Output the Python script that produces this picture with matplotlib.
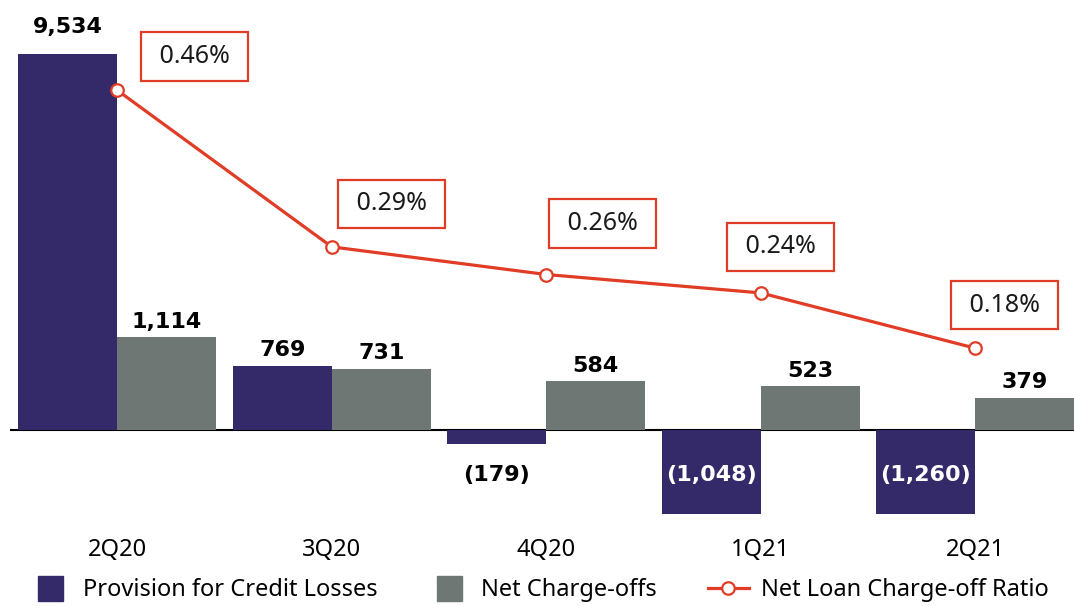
import matplotlib
matplotlib.use("Agg")
import matplotlib.pyplot as plt
from matplotlib.lines import Line2D

plt.rcParams['font.family'] = ['Noto Sans', 'DejaVu Sans']
bold_font = ['DejaVu Sans']

# data
quarters = ['2Q20', '3Q20', '4Q20', '1Q21', '2Q21']
provision = [9534, 769, -179, -1048, -1260]
charge_offs = [1114, 731, 584, 523, 379]
ratio = [0.46, 0.29, 0.26, 0.24, 0.18]

# colours
purple = '#352a69'
grey = '#6f7775'
red = '#e03c26'

# the 2Q20 provision bar is drawn with a broken scale
bar_cap = 4550

# where the ratio boxes sit relative to the points (px, right / up)
box_offsets_px = [(77, 34), (60, 43), (56, 51), (20, 46), (29, 43)]

fig = plt.figure(figsize=(10.74, 6.06), dpi=100)
ax = fig.add_axes([10 / 1074, 92 / 606, 1064 / 1074, 514 / 606])
ax2 = ax.twinx()

x = list(range(len(quarters)))
w = 0.462
prov_shown = [min(v, bar_cap) for v in provision]
ax.bar([i - w / 2 for i in x], prov_shown, width=w, color=purple, zorder=2)
ax.bar([i + w / 2 for i in x], charge_offs, width=w, color=grey, zorder=2)
ax.axhline(0, color='black', lw=1.5, zorder=1)

ax.set_xlim(-0.5, 4.46)
ax.set_ylim(-1023, 5200)
ax.set_xticks(x)
ax.set_xticklabels(quarters, fontsize=17)
ax.tick_params(axis='x', length=0, pad=17)
ax.set_yticks([])
for s in ax.spines.values():
    s.set_visible(False)

def fmt(v):
    return f"({abs(v):,})" if v < 0 else f"{v:,}"

# bar labels
for i, v in enumerate(provision):
    if v >= 0:
        extra = 15 if v > bar_cap else 7
        ax.annotate(fmt(v), (i - w / 2, min(v, bar_cap)), xytext=(0, extra),
                    textcoords='offset points', ha='center', va='baseline',
                    fontsize=16, fontweight='bold', family=bold_font,
                    color='black')
    else:
        col = 'white' if abs(v) > 700 else 'black'
        ax.text(i - w / 2, -551, fmt(v), ha='center', va='center',
                fontsize=16, fontweight='bold', family=bold_font,
                color=col, zorder=3)
for i, v in enumerate(charge_offs):
    ax.annotate(fmt(v), (i + w / 2, v), xytext=(0, 7),
                textcoords='offset points', ha='center', va='baseline',
                fontsize=16, fontweight='bold', family=bold_font,
                color='black')

# ratio line
ax2.plot(x, ratio, color=red, lw=2.3, marker='o', markersize=9,
         markerfacecolor='white', markeredgecolor=red, markeredgewidth=1.6,
         zorder=3)
ax2.set_ylim(0, 0.558)
ax2.set_yticks([])
for s in ax2.spines.values():
    s.set_visible(False)

for i, r in enumerate(ratio):
    dx, dy = box_offsets_px[i]
    ax2.annotate(f" {r:.2f}% ", (i, r), xytext=(dx * 0.72, dy * 0.72),
                 textcoords='offset points', ha='center', va='center',
                 fontsize=18, color='#1a1a1a',
                 bbox=dict(boxstyle='square,pad=0.47', facecolor='white',
                           edgecolor=red, linewidth=1.6))

# legend
handles = [
    Line2D([0], [0], marker='s', color='none', markerfacecolor=purple,
           markeredgecolor=purple, markersize=18),
    Line2D([0], [0], marker='s', color='none', markerfacecolor=grey,
           markeredgecolor=grey, markersize=18),
    Line2D([0], [0], color=red, lw=2.3, marker='o', markersize=9,
           markerfacecolor='white', markeredgecolor=red, markeredgewidth=1.6),
]
labels = ['Provision for Credit Losses', 'Net Charge-offs',
          'Net Loan Charge-off Ratio']
fig.legend(handles, labels, loc='center', bbox_to_anchor=(0.502, 1 - 590 / 606),
           ncol=3, frameon=False, fontsize=17, handlelength=1.75,
           handletextpad=0.5, columnspacing=2.15, borderpad=0)

fig.savefig('out.png', dpi=100)
